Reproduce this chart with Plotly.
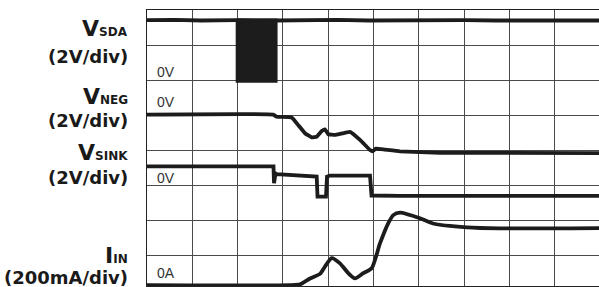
import plotly.graph_objects as go

# ---- data (time in screen divisions, levels in screen divisions) ----
sda_t = [0.0, 0.6, 1.2, 1.6, 1.98, 2.86, 3.5, 4.2, 4.9, 5.6, 6.3, 7.0, 7.7, 8.4, 9.1, 9.98]
sda_v = [7.71, 7.72, 7.70, 7.71, 7.71, 7.70, 7.71, 7.72, 7.70, 7.71, 7.70, 7.71, 7.70, 7.71, 7.70, 7.70]
burst_t = [1.98, 2.86]
burst_lo = 5.95
burst_hi = 7.73

neg_t = [0.0, 2.788, 2.863, 3.194, 3.340, 3.488, 3.636, 3.746, 3.857, 3.929, 4.002, 4.150,
         4.481, 4.702, 4.923, 4.978, 5.055, 5.254, 5.585, 6.468, 9.978]
neg_v = [5.01, 5.01, 4.95, 4.93, 4.71, 4.48, 4.36, 4.38, 4.54, 4.59, 4.45, 4.43,
         4.52, 4.29, 4.00, 3.96, 4.04, 4.01, 3.96, 3.92, 3.91]

sink_t = [0.0, 2.792, 2.804, 2.837, 2.863, 3.232, 3.746, 3.764, 3.951, 3.974, 4.040,
          4.923, 4.956, 5.585, 9.978]
sink_v = [3.53, 3.53, 3.05, 3.33, 3.31, 3.29, 3.24, 2.67, 2.67, 3.24, 3.27,
          3.27, 2.70, 2.69, 2.69]

iin_t = [0.0, 3.157, 3.377, 3.598, 3.819, 3.929, 4.077, 4.260, 4.444, 4.592, 4.775, 4.960,
         5.143, 5.327, 5.437, 5.585, 6.026, 6.313, 7.064, 7.792, 9.978]
iin_v = [0.14, 0.14, 0.16, 0.33, 0.46, 0.67, 0.91, 0.76, 0.48, 0.33, 0.48, 0.62,
         1.33, 1.91, 2.14, 2.21, 2.05, 1.90, 1.79, 1.76, 1.77]

# channel labels
ch_sym = ["V", "V", "V", "I"]
ch_sub = ["SDA", "NEG", "SINK", "IN"]
ch_scale = ["(2V/div)", "(2V/div)", "(2V/div)", "(200mA/div)"]
ch_sym_y = [28.5, 97, 152.5, 255.5]
ch_scale_y = [56.5, 120, 177, 277]

# ground reference labels
gnd_text = ["0V", "0V", "0V", "0A"]
gnd_y = [71.5, 101.5, 178, 273]

W, H = 599, 287
L, R, T, B = 147, 0, 10, 1
DIV_PX = 35.0
plot_h = H - T - B
plot_w = W - L - R

trace_col = "#1c1c1c"
lw = 3.8

fig = go.Figure()
fig.add_trace(go.Scatter(
    x=[burst_t[0], burst_t[0], burst_t[1], burst_t[1], burst_t[0]],
    y=[burst_hi, burst_lo, burst_lo, burst_hi, burst_hi],
    mode="lines", fill="toself", fillcolor=trace_col,
    line=dict(color=trace_col, width=2), hoverinfo="skip"))
fig.add_trace(go.Scatter(x=sda_t, y=sda_v, mode="lines",
                         line=dict(color=trace_col, width=lw)))
fig.add_trace(go.Scatter(x=neg_t, y=neg_v, mode="lines",
                         line=dict(color=trace_col, width=lw, shape="spline", smoothing=0.3)))
fig.add_trace(go.Scatter(x=sink_t, y=sink_v, mode="lines",
                         line=dict(color=trace_col, width=lw)))
fig.add_trace(go.Scatter(x=iin_t, y=iin_v, mode="lines",
                         line=dict(color=trace_col, width=lw, shape="spline", smoothing=0.6)))

def py_to_paper(py):
    return (H - B - py) / plot_h

annos = []
label_right = (130 - L) / plot_w
for s, sub, sc, ys, yc in zip(ch_sym, ch_sub, ch_scale, ch_sym_y, ch_scale_y):
    annos.append(dict(
        text=f"<b>{s}<span style='font-size:12px'>{sub}</span></b>",
        xref="paper", yref="paper", x=label_right, y=py_to_paper(ys),
        xanchor="right", yanchor="middle", showarrow=False,
        font=dict(family="DejaVu Sans", size=22, color="#1a1a1a")))
    annos.append(dict(
        text=f"<b>{sc}</b>",
        xref="paper", yref="paper", x=label_right, y=py_to_paper(yc),
        xanchor="right", yanchor="middle", showarrow=False,
        font=dict(family="DejaVu Sans", size=18, color="#1a1a1a")))

gnd_x = (155 - L) / plot_w
for t, y in zip(gnd_text, gnd_y):
    annos.append(dict(
        text=t, xref="paper", yref="paper", x=gnd_x, y=py_to_paper(y),
        xanchor="left", yanchor="middle", showarrow=False,
        font=dict(family="Liberation Sans", size=14, color="#333333")))

fig.update_layout(
    width=W, height=H, margin=dict(l=L, r=R, t=T, b=B),
    paper_bgcolor="white", plot_bgcolor="white", showlegend=False,
    annotations=annos,
    xaxis=dict(range=[0, plot_w / 45.3], dtick=1, tick0=0, showgrid=True,
               gridcolor="#4a4a4a", gridwidth=1, zeroline=False, showticklabels=False,
               ticks="", showline=True, mirror=True, linecolor="#222222", linewidth=1.2,
               fixedrange=True),
    yaxis=dict(range=[8 - plot_h / DIV_PX, 8], dtick=1, tick0=0, showgrid=True,
               gridcolor="#4a4a4a", gridwidth=1, zeroline=False, showticklabels=False,
               ticks="", showline=True, mirror=False, linecolor="#222222", linewidth=1.2,
               fixedrange=True),
)

fig.write_html("out.html", config={"displayModeBar": False},
               post_script="document.body.style.margin='0px';document.body.style.overflow='hidden';")
